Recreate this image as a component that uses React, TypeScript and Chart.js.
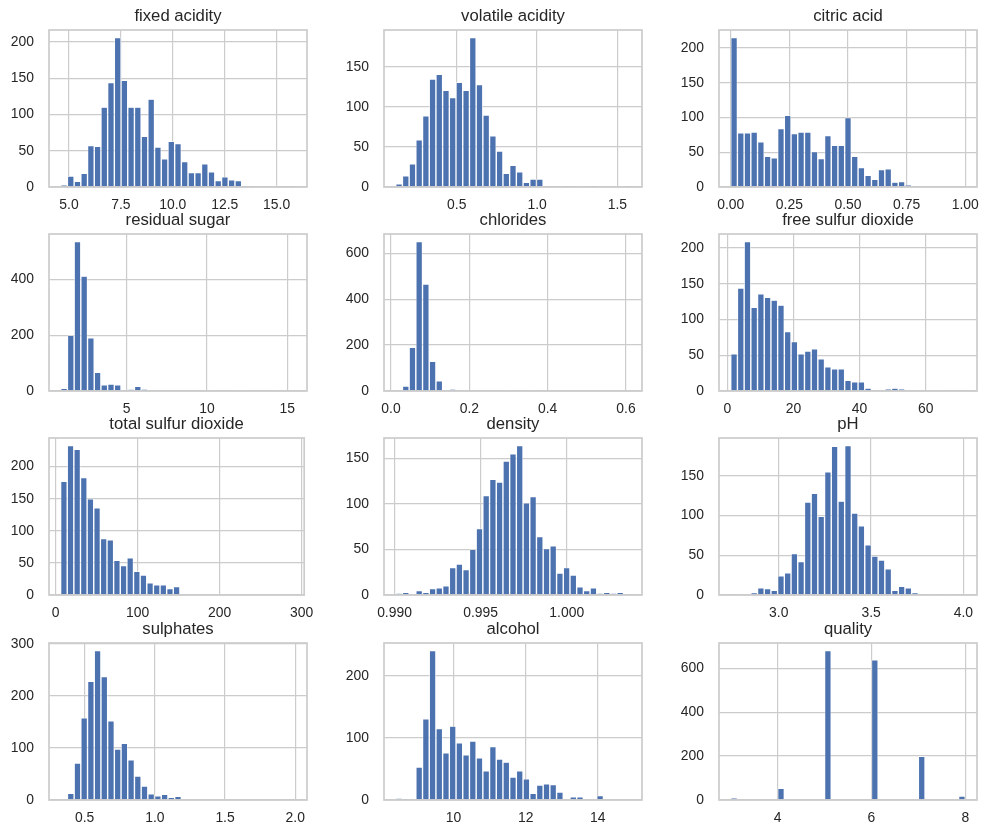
import React, { useEffect, useRef } from "react";
import { Chart, registerables } from "chart.js";

Chart.register(...registerables);
Chart.defaults.font.family = "'Liberation Sans', Arial, sans-serif";

// ---- data (35-bin histograms of the red wine quality dataset) ----
const titles = [
  "fixed acidity", "volatile acidity", "citric acid",
  "residual sugar", "chlorides", "free sulfur dioxide",
  "total sulfur dioxide", "density", "pH",
  "sulphates", "alcohol", "quality",
];
const dataMin = [4.6, 0.12, 0.0, 0.9, 0.012, 1, 6, 0.99007, 2.74, 0.33, 8.4, 3];
const dataMax = [15.9, 1.58, 1.0, 15.5, 0.611, 72, 289, 1.00369, 4.01, 2.0, 14.9, 8];
const xTickStep = [2.5, 0.5, 0.25, 5, 0.2, 20, 100, 0.005, 0.5, 0.5, 2, 2];
const xTickDecimals = [1, 1, 2, 0, 1, 0, 0, 3, 1, 1, 0, 0];
const yTickStep = [50, 50, 50, 200, 200, 50, 50, 50, 50, 100, 100, 200];

const fixedAcidity = [3, 15, 8, 19, 57, 56, 110, 144, 206, 147, 110, 110, 70, 121, 55, 39, 63, 60, 35, 20, 20, 32, 21, 9, 14, 10, 9, 2, 2, 1, 1, 0, 2, 2, 2];
const volatileAcidity = [4, 14, 29, 59, 89, 135, 141, 121, 112, 131, 121, 187, 128, 90, 64, 45, 17, 27, 19, 6, 10, 10, 2, 2, 1, 2, 1, 0, 0, 2, 0, 0, 0, 0, 2];
const citricAcid = [215, 78, 78, 79, 65, 44, 42, 84, 103, 77, 79, 79, 51, 41, 74, 60, 60, 100, 44, 28, 17, 11, 25, 26, 7, 8, 3, 1, 0, 0, 0, 0, 0, 0, 1];
const residualSugar = [10, 199, 535, 411, 190, 67, 22, 25, 22, 3, 6, 17, 7, 3, 2, 4, 3, 3, 3, 3, 0, 0, 0, 2, 1, 0, 0, 0, 1, 1, 1, 2, 0, 0, 2];
const chlorides = [2, 22, 190, 651, 466, 129, 44, 3, 9, 3, 2, 3, 3, 2, 1, 1, 0, 0, 1, 4, 2, 1, 3, 2, 2, 0, 2, 0, 0, 0, 0, 0, 0, 0, 3];
const freeSulfurDioxide = [52, 144, 209, 117, 136, 131, 127, 120, 83, 69, 52, 56, 59, 45, 34, 31, 31, 15, 13, 13, 4, 1, 1, 3, 4, 3, 0, 0, 0, 0, 0, 0, 1, 1, 1];
const totalSulfurDioxide = [177, 233, 227, 183, 150, 136, 88, 86, 54, 46, 58, 37, 31, 19, 16, 16, 10, 13, 1, 1, 0, 0, 0, 0, 0, 0, 0, 0, 0, 0, 0, 0, 0, 1, 1];
const density = [2, 3, 0, 5, 3, 7, 8, 10, 30, 34, 28, 50, 73, 109, 127, 124, 147, 155, 164, 101, 108, 64, 51, 54, 24, 30, 22, 9, 5, 8, 2, 3, 2, 3, 1];
const pH = [1, 0, 0, 3, 9, 8, 6, 24, 28, 52, 42, 117, 128, 99, 155, 187, 118, 188, 103, 87, 63, 49, 44, 33, 6, 11, 9, 3, 1, 0, 0, 1, 0, 0, 2];
const sulphates = [2, 13, 71, 158, 228, 287, 237, 152, 98, 109, 77, 46, 27, 12, 8, 11, 5, 7, 1, 1, 1, 1, 0, 0, 0, 0, 2, 1, 0, 0, 0, 0, 0, 1, 2];
const alcohol = [3, 2, 2, 53, 131, 241, 115, 76, 119, 92, 73, 95, 68, 47, 86, 66, 61, 37, 47, 34, 11, 24, 26, 25, 13, 0, 5, 5, 0, 0, 7, 0, 0, 0, 1];
const quality = [10, 0, 0, 0, 0, 0, 0, 53, 0, 0, 0, 0, 0, 0, 681, 0, 0, 0, 0, 0, 0, 638, 0, 0, 0, 0, 0, 0, 199, 0, 0, 0, 0, 0, 18];

const counts = [
  fixedAcidity, volatileAcidity, citricAcid,
  residualSugar, chlorides, freeSulfurDioxide,
  totalSulfurDioxide, density, pH,
  sulphates, alcohol, quality,
];

// ---- layout / style ----
const COL_X = [49, 384, 719];
const ROW_Y = [30, 234, 438, 643];
const AX_W = 258;
const AX_H = 157;
const PAD_L = 49;
const PAD_T = 30;
const PAD_R = 16;
const PAD_B = 30;
const BAR = "#4C72B0";
const GRID = "#cccccc";
const TEXT = "#262626";

const boxPlugin = {
  id: "axbox",
  afterDatasetsDraw(chart: any) {
    const { ctx, chartArea: a } = chart;
    ctx.save();
    ctx.strokeStyle = GRID;
    ctx.lineWidth = 1.7;
    ctx.strokeRect(a.left, a.top, a.right - a.left, a.bottom - a.top);
    ctx.restore();
  },
};

function stepTicks(step: number) {
  return (s: any) => {
    const t: { value: number }[] = [];
    const k0 = Math.ceil(s.min / step - 1e-9);
    for (let k = k0; k * step <= s.max + 1e-9; k++) t.push({ value: k * step });
    s.ticks = t;
  };
}

function Hist({ idx }: { idx: number }) {
  const ref = useRef<HTMLCanvasElement | null>(null);
  useEffect(() => {
    if (!ref.current) return;
    const lo = dataMin[idx];
    const hi = dataMax[idx];
    const c = counts[idx];
    const w = (hi - lo) / c.length;
    const span = hi - lo;
    const ymax = Math.max(...c) * 1.05;
    const dec = xTickDecimals[idx];
    const chart = new Chart(ref.current, {
      type: "bar",
      data: {
        datasets: [
          {
            data: c.map((v, k) => ({ x: lo + (k + 0.5) * w, y: v })),
            backgroundColor: BAR,
            borderColor: "#ffffff",
            borderWidth: { top: 0.7, left: 0.7, right: 0.7, bottom: 0 },
            categoryPercentage: 1,
            barPercentage: 1,
            inflateAmount: 0,
          } as any,
        ],
      },
      options: {
        responsive: false,
        animation: false,
        devicePixelRatio: 1,
        layout: { padding: { left: 0, top: 0, right: PAD_R, bottom: 0 } },
        plugins: {
          legend: { display: false },
          tooltip: { enabled: false },
          title: {
            display: true,
            text: titles[idx],
            color: TEXT,
            fullSize: false,
            font: { size: 16.7, weight: "normal" },
            padding: { top: 6, bottom: 3.96 },
          },
        },
        scales: {
          x: {
            type: "linear",
            min: lo - 0.05 * span,
            max: hi + 0.05 * span,
            offset: false,
            grid: { offset: false, color: GRID, lineWidth: 1.2, drawTicks: false },
            border: { display: false },
            afterBuildTicks: stepTicks(xTickStep[idx]),
            ticks: {
              padding: 9.6,
              color: TEXT,
              font: { size: 13.9 },
              maxRotation: 0,
              autoSkip: false,
              callback: (v: any) => Number(v).toFixed(dec),
            },
            afterFit: (s: any) => {
              s.height = PAD_B;
            },
          },
          y: {
            type: "linear",
            min: 0,
            max: ymax,
            grid: { color: GRID, lineWidth: 1.2, drawTicks: false },
            border: { display: false },
            afterBuildTicks: stepTicks(yTickStep[idx]),
            ticks: {
              padding: 15,
              color: TEXT,
              font: { size: 13.9 },
              autoSkip: false,
              callback: (v: any) => String(Math.round(Number(v))),
            },
            afterFit: (s: any) => {
              s.width = PAD_L;
            },
          },
        },
      } as any,
      plugins: [boxPlugin],
    });
    return () => chart.destroy();
  }, [idx]);

  const col = idx % 3;
  const row = Math.floor(idx / 3);
  return (
    <canvas
      ref={ref}
      width={PAD_L + AX_W + PAD_R}
      height={PAD_T + AX_H + PAD_B}
      style={{
        position: "absolute",
        left: COL_X[col] - PAD_L,
        top: ROW_Y[row] - PAD_T,
        width: PAD_L + AX_W + PAD_R,
        height: PAD_T + AX_H + PAD_B,
      }}
    />
  );
}

export default function App() {
  return (
    <div
      style={{
        position: "absolute",
        left: 0,
        top: 0,
        width: 991,
        height: 837,
        background: "#ffffff",
        overflow: "hidden",
      }}
    >
      {titles.map((_, i) => (
        <Hist key={i} idx={i} />
      ))}
    </div>
  );
}
